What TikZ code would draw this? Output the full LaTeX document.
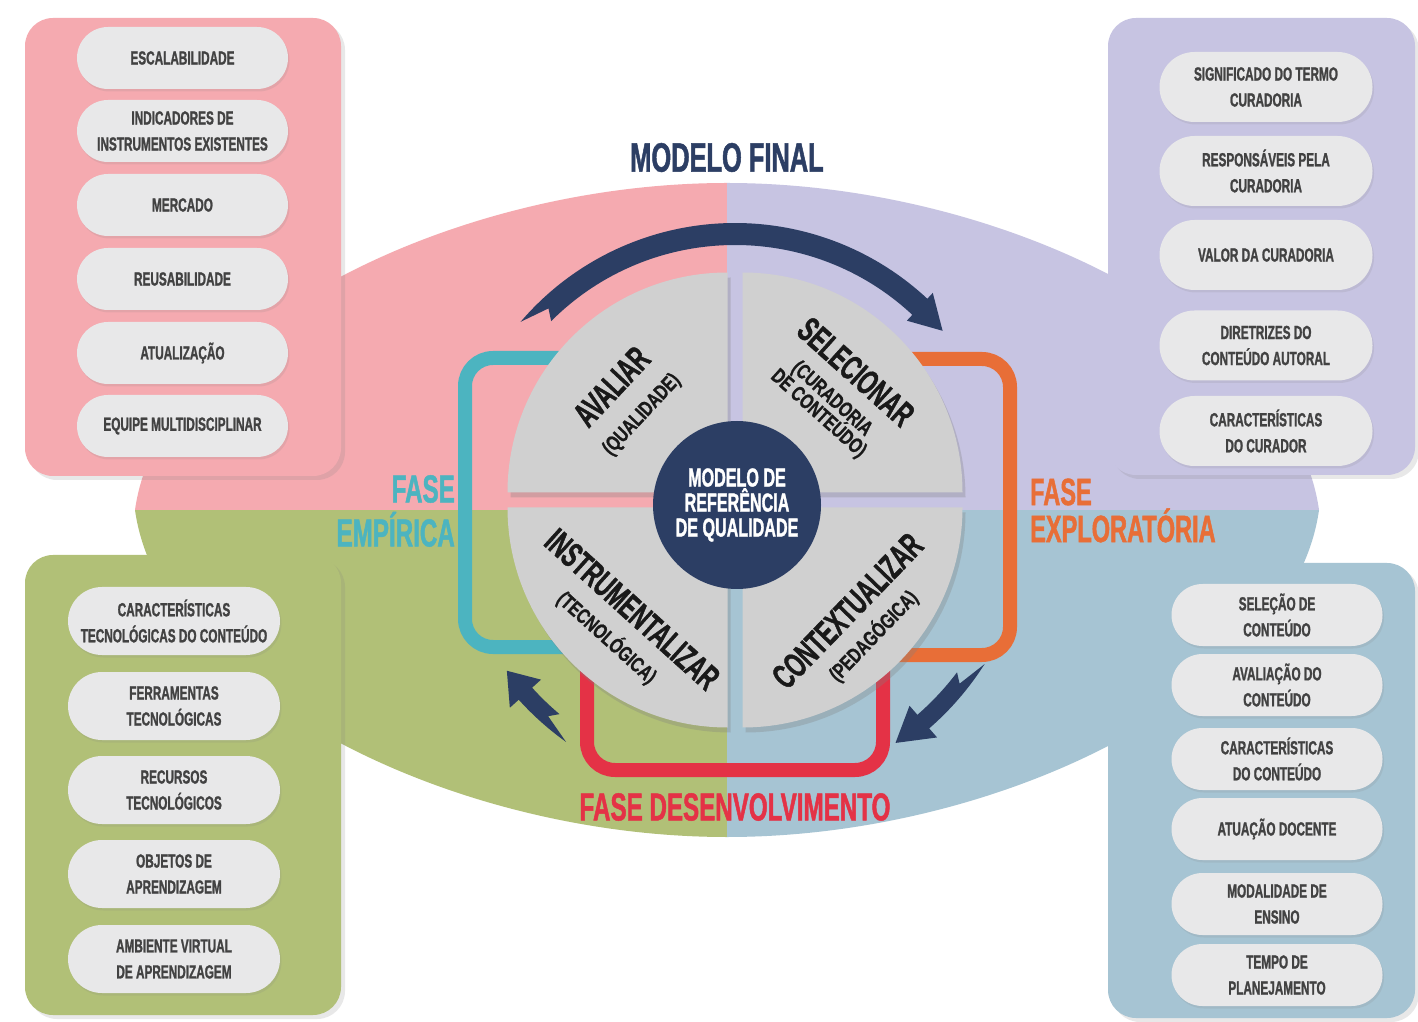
\documentclass[tikz,border=0pt]{standalone}
\usepackage{fontspec}
\setmainfont{Liberation Sans}[FakeStretch=0.62, FakeBold=1.2, UprightFont=* Bold, BoldFont=* Bold]
\newfontfamily\subfont{Liberation Sans}[FakeStretch=0.74, FakeBold=1, UprightFont=* Bold, BoldFont=* Bold]
\usetikzlibrary{calc,shapes.misc,shadows}

\definecolor{rosa}{RGB}{245,170,176}
\definecolor{lilas}{RGB}{199,196,226}
\definecolor{verde}{RGB}{177,192,119}
\definecolor{azul}{RGB}{166,196,211}
\definecolor{pilula}{RGB}{232,232,233}
\definecolor{cinza}{RGB}{208,208,208}
\definecolor{marinho}{RGB}{44,62,100}
\definecolor{turquesa}{RGB}{76,180,192}
\definecolor{laranja}{RGB}{232,110,55}
\definecolor{vermelho}{RGB}{228,50,70}
\definecolor{textopil}{RGB}{66,66,66}

\begin{document}
\begin{tikzpicture}[x=1pt, y=1pt,
        pill/.style={rounded rectangle, fill=pilula, minimum width=211, inner sep=0pt,
            text=textopil, align=center, font=\fontsize{19}{26}\selectfont,
            drop shadow={shadow xshift=1.5pt, shadow yshift=-2.5pt, opacity=0.15}},
        caixa/.style={rounded corners=28, drop shadow={shadow xshift=4pt, shadow yshift=-4pt, opacity=0.18}},
        quarto/.style={fill=cinza, drop shadow={shadow xshift=3pt, shadow yshift=-5pt, opacity=0.3}},
        fase/.style={line width=14, rounded corners=28},
        rotulo/.style={text=black!90, font=\fontsize{35}{35}\selectfont, inner sep=0pt, align=center},
        fasetxt/.style={font=\fontsize{39}{44}\selectfont, inner sep=0pt}]

        \newcommand{\sub}[1]{{\subfont\fontsize{21}{20}\selectfont #1}}

        \useasboundingbox (0,0) rectangle (1418,1021);
        \fill[white] (0,0) rectangle (1418,1021);

        % Lens, four quadrants
        \begin{scope}
            \clip (135,511) .. controls (160,691) and (450,838) .. (727,838)
                .. controls (1004,838) and (1294,691) .. (1319,511)
                .. controls (1294,331) and (1004,184) .. (727,184)
                .. controls (450,184) and (160,331) .. (135,511) -- cycle;
            \fill[rosa] (100,511) rectangle (727,850);
            \fill[lilas] (727,511) rectangle (1330,850);
            \fill[verde] (100,170) rectangle (727,511);
            \fill[azul] (727,170) rectangle (1330,511);
        \end{scope}

        % Boxes
        \fill[caixa, rosa] (25,545) rectangle (341,1003);
        \fill[caixa, lilas] (1108,546) rectangle (1415,1003);
        \fill[caixa, verde] (25,6) rectangle (341,466);
        \fill[caixa, azul] (1108,3) rectangle (1415,458);

        % Pills
        \foreach \yy/\txt [count=\i] in {963/ESCALABILIDADE, 890/{INDICADORES DE\\INSTRUMENTOS EXISTENTES},
                816/MERCADO, 742/REUSABILIDADE, 668/ATUALIZAÇÃO, 595/EQUIPE MULTIDISCIPLINAR}
            \node[pill, minimum height=62] (rosa\i) at (182.5,\yy) {\txt};
        \foreach \yy/\txt [count=\i] in {934/{SIGNIFICADO DO TERMO\\CURADORIA}, 850/{RESPONSÁVEIS PELA\\CURADORIA},
                766/VALOR DA CURADORIA, 675.5/{DIRETRIZES DO\\CONTEÚDO AUTORAL}, 590/{CARACTERÍSTICAS\\DO CURADOR}}
            \node[pill, minimum height=70, minimum width=213] (lilas\i) at (1266,\yy) {\txt};
        \foreach \yy/\txt [count=\i] in {400/{CARACTERÍSTICAS\\TECNOLÓGICAS DO CONTEÚDO}, 315/{FERRAMENTAS\\TECNOLÓGICAS},
                231/{RECURSOS\\TECNOLÓGICOS}, 147/{OBJETOS DE\\APRENDIZAGEM}, 62/{AMBIENTE VIRTUAL\\DE APRENDIZAGEM}}
            \node[pill, minimum height=68, minimum width=212] (verde\i) at (174,\yy) {\txt};
        \foreach \yy/\txt [count=\i] in {406/{SELEÇÃO DE\\CONTEÚDO}, 336/{AVALIAÇÃO DO\\CONTEÚDO}, 262/{CARACTERÍSTICAS\\DO CONTEÚDO},
                192/ATUAÇÃO DOCENTE, 117/{MODALIDADE DE\\ENSINO}, 46/{TEMPO DE\\PLANEJAMENTO}}
            \node[pill, minimum height=62] (azul\i) at (1277,\yy) {\txt};

        % Phase frames
        \draw[fase, turquesa] (600,663) -- (465,663) -- (465,374) -- (600,374);
        \draw[fase, laranja] (880,662) -- (1010,662) -- (1010,366) -- (880,366);
        \draw[fase, vermelho] (587,381) -- (587,251) -- (883,251) -- (883,381);

        % Pie
        \fill[quarto] (727.5,528.5) -- ++(-220,0) arc[start angle=180, end angle=90, radius=220] -- cycle;
        \fill[quarto] (742.5,528.5) -- ++(0,220) arc[start angle=90, end angle=0, radius=220] -- cycle;
        \fill[quarto] (727.5,513.5) -- ++(0,-220) arc[start angle=270, end angle=180, radius=220] -- cycle;
        \fill[quarto] (742.5,513.5) -- ++(220,0) arc[start angle=0, end angle=-90, radius=220] -- cycle;

        \node[circle, fill=marinho, minimum size=168, text=white, align=center, inner sep=0pt,
            font=\fontsize{26}{25}\selectfont] (centro) at (737,516) {MODELO DE\\REFERÊNCIA\\DE QUALIDADE};

        % Pie labels
        \node[rotulo, rotate=47] (avaliar) at (626,621) {AVALIAR\\\sub{(QUALIDADE)}};
        \node[rotulo, rotate=-42] (selecionar) at (838,629) {SELECIONAR\\[-5pt]\sub{(CURADORIA}\\[-15pt]\sub{DE CONTEÚDO)}};
        \node[rotulo, rotate=-42] (instrumentalizar) at (620,398) {INSTRUMENTALIZAR\\[-2pt]\sub{(TECNOLÓGICA)}};
        \node[rotulo, rotate=46] (contextualizar) at (860,398) {CONTEXTUALIZAR\\[-4pt]\sub{(PEDAGÓGICA)}};

        % Cycle arrows: radius/tail/head base/tip/half shaft/half head
        \coordinate (ciclo) at (735,516);
        \foreach \r/\ta/\tb/\tc/\w/\h in {271/138/47/40/11/19, 282/233/222/216/9/21, 287/-34/-49/-56/9/21}
            \fill[marinho] ($(ciclo)+({\ta+1.5}:{\r+\w})$)
                arc[start angle={\ta+1.5}, end angle=\tb, radius={\r+\w}]
                -- ($(ciclo)+(\tb:{\r+\h})$) -- ($(ciclo)+(\tc:\r)$)
                -- ($(ciclo)+(\tb:{\r-\h})$) -- ($(ciclo)+(\tb:{\r-\w})$)
                arc[start angle=\tb, end angle={\ta-3}, radius={\r-\w}]
                -- ($(ciclo)+({\ta-4.5}:\r)$) -- cycle;

        % Titles
        \node[font=\fontsize{41}{41}\selectfont, text=marinho, inner sep=0pt] (final) at (727,863.5) {MODELO FINAL};
        \node[fasetxt, text=turquesa, align=right, anchor=east] (empirica) at (455,510) {FASE\\EMPÍRICA};
        \node[fasetxt, text=laranja, align=left, anchor=west, font=\fontsize{38}{37}\selectfont]
            (exploratoria) at (1030,510.5) {FASE\\EXPLORATÓRIA};
        \node[fasetxt, text=vermelho] (desenvolvimento) at (735,214) {FASE DESENVOLVIMENTO};
\end{tikzpicture}
\end{document}
